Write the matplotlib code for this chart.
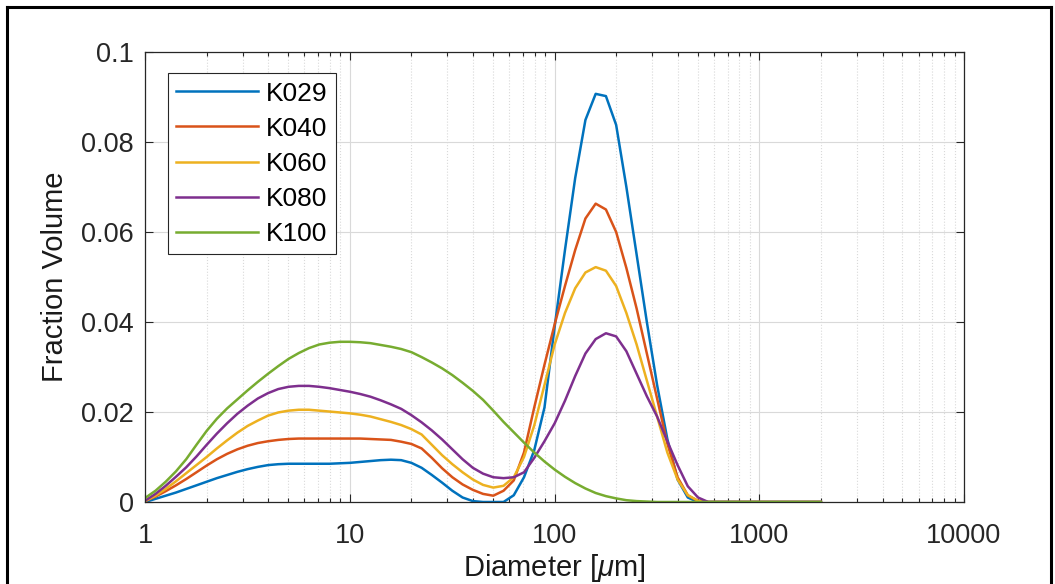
import matplotlib
matplotlib.use("Agg")
import matplotlib.pyplot as plt
from matplotlib.lines import Line2D
from matplotlib.ticker import LogLocator, NullFormatter, FixedLocator

plt.rcParams["font.family"] = ["Liberation Sans", "DejaVu Sans"]
plt.rcParams["mathtext.fontset"] = "custom"
plt.rcParams["mathtext.it"] = "Liberation Sans:italic"

# size classes (um)
diameter = [1.002, 1.125, 1.262, 1.416, 1.589, 1.783, 2.000, 2.244, 2.518, 2.825,
            3.170, 3.557, 3.991, 4.477, 5.024, 5.637, 6.325, 7.096, 7.962, 8.934,
            10.02, 11.25, 12.62, 14.16, 15.89, 17.83, 20.00, 22.44, 25.18, 28.25,
            31.70, 35.57, 39.91, 44.77, 50.24, 56.37, 63.25, 70.96, 79.62, 89.34,
            100.2, 112.5, 126.2, 141.6, 158.9, 178.3, 200.0, 224.4, 251.8, 282.5,
            317.0, 355.7, 399.1, 447.7, 502.4, 563.7, 632.5, 709.6, 796.2, 893.4,
            1002, 1125, 1262, 1416, 1589, 1783, 2000]

k029 = [0.0, 0.0007, 0.0014, 0.0021, 0.0029, 0.0037, 0.0045, 0.0053, 0.0060, 0.0067,
        0.0073, 0.0078, 0.0082, 0.0084, 0.0085, 0.0085, 0.0085, 0.0085, 0.0085, 0.0086,
        0.0087, 0.0089, 0.0091, 0.0093, 0.0094, 0.0093, 0.0087, 0.0076, 0.0060, 0.0043,
        0.0025, 0.0010, 0.0002, 0.0, 0.0, 0.0, 0.0015, 0.0055, 0.0115, 0.0210,
        0.0390, 0.0560, 0.0720, 0.0849, 0.0907, 0.0902, 0.0838, 0.0700, 0.0550, 0.0400,
        0.0260, 0.0140, 0.0050, 0.0010, 0.0, 0.0, 0.0, 0.0, 0.0, 0.0,
        0.0, 0.0, 0.0, 0.0, 0.0, 0.0, 0.0]

k040 = [0.0002, 0.0012, 0.0024, 0.0037, 0.0051, 0.0066, 0.0081, 0.0095, 0.0107, 0.0117,
        0.0125, 0.0131, 0.0135, 0.0138, 0.0140, 0.0141, 0.0141, 0.0141, 0.0141, 0.0141,
        0.0141, 0.0141, 0.0140, 0.0139, 0.0138, 0.0134, 0.0129, 0.0119, 0.0098, 0.0075,
        0.0055, 0.0039, 0.0027, 0.0018, 0.0014, 0.0025, 0.0048, 0.0110, 0.0210, 0.0305,
        0.0395, 0.0480, 0.0560, 0.0630, 0.0663, 0.0650, 0.0600, 0.0520, 0.0430, 0.0330,
        0.0230, 0.0130, 0.0055, 0.0015, 0.0002, 0.0, 0.0, 0.0, 0.0, 0.0,
        0.0, 0.0, 0.0, 0.0, 0.0, 0.0, 0.0]

k060 = [0.0002, 0.0014, 0.0029, 0.0046, 0.0064, 0.0082, 0.0100, 0.0119, 0.0137, 0.0154,
        0.0169, 0.0181, 0.0192, 0.0199, 0.0203, 0.0205, 0.0205, 0.0203, 0.0201, 0.0199,
        0.0197, 0.0194, 0.0190, 0.0184, 0.0178, 0.0171, 0.0162, 0.0150, 0.0127, 0.0104,
        0.0084, 0.0066, 0.0050, 0.0038, 0.0032, 0.0036, 0.0055, 0.0100, 0.0170, 0.0260,
        0.0350, 0.0420, 0.0475, 0.0510, 0.0522, 0.0514, 0.0480, 0.0420, 0.0350, 0.0270,
        0.0190, 0.0110, 0.0050, 0.0015, 0.0003, 0.0, 0.0, 0.0, 0.0, 0.0,
        0.0, 0.0, 0.0, 0.0, 0.0, 0.0, 0.0]

k080 = [0.0003, 0.0018, 0.0036, 0.0056, 0.0077, 0.0101, 0.0127, 0.0152, 0.0175, 0.0196,
        0.0214, 0.0230, 0.0242, 0.0251, 0.0256, 0.0258, 0.0258, 0.0256, 0.0253, 0.0249,
        0.0245, 0.0240, 0.0234, 0.0226, 0.0217, 0.0207, 0.0193, 0.0177, 0.0159, 0.0139,
        0.0117, 0.0095, 0.0076, 0.0063, 0.0055, 0.0053, 0.0055, 0.0066, 0.0098, 0.0135,
        0.0175, 0.0225, 0.0280, 0.0330, 0.0362, 0.0375, 0.0368, 0.0335, 0.0285, 0.0235,
        0.0190, 0.0135, 0.0082, 0.0035, 0.0010, 0.0, 0.0, 0.0, 0.0, 0.0,
        0.0, 0.0, 0.0, 0.0, 0.0, 0.0, 0.0]

k100 = [0.0009, 0.0025, 0.0045, 0.0068, 0.0095, 0.0127, 0.0158, 0.0185, 0.0208, 0.0228,
        0.0248, 0.0267, 0.0285, 0.0302, 0.0318, 0.0331, 0.0342, 0.0350, 0.0354, 0.0356,
        0.0356, 0.0355, 0.0353, 0.0349, 0.0345, 0.0340, 0.0333, 0.0322, 0.0310, 0.0297,
        0.0282, 0.0265, 0.0247, 0.0227, 0.0203, 0.0178, 0.0155, 0.0132, 0.0110, 0.0090,
        0.0072, 0.0056, 0.0042, 0.0030, 0.0020, 0.0013, 0.0008, 0.0004, 0.0002, 0.0001,
        0.0, 0.0, 0.0, 0.0, 0.0, 0.0, 0.0, 0.0, 0.0, 0.0,
        0.0, 0.0, 0.0, 0.0, 0.0, 0.0, 0.0]

names = ["K029", "K040", "K060", "K080", "K100"]
colors = ["#0072BD", "#D95319", "#EDB120", "#7E2F8E", "#77AC30"]
x_ticks = [1, 10, 100, 1000, 10000]
y_ticks = [0, 0.02, 0.04, 0.06, 0.08, 0.1]
y_labels = ["0", "0.02", "0.04", "0.06", "0.08", "0.1"]

W, H = 1055, 584
fig = plt.figure(figsize=(W / 100, H / 100), dpi=100)
ax = fig.add_axes([145 / W, 1 - 502 / H, 819 / W, 450 / H])

for y, name, c in zip([k029, k040, k060, k080, k100], names, colors):
    ax.plot(diameter, y, color=c, lw=1.8, label=name)

ax.set_xscale("log")
ax.set_xlim(1, 10000)
ax.set_ylim(0, 0.1)
ax.xaxis.set_major_locator(FixedLocator(x_ticks))
ax.set_xticklabels([str(t) for t in x_ticks])
ax.xaxis.set_minor_locator(LogLocator(base=10, subs=range(2, 10)))
ax.xaxis.set_minor_formatter(NullFormatter())
ax.set_yticks(y_ticks)
ax.set_yticklabels(y_labels)

gc = "#d9d9d9"
ax.grid(which="major", color=gc, lw=0.8)
ax.grid(which="minor", axis="x", color=gc, lw=0.8, ls=":")
ax.set_axisbelow(True)

tc = "#262626"
for s in ax.spines.values():
    s.set_color(tc)
    s.set_linewidth(0.9)
ax.tick_params(which="both", direction="in", top=True, right=True, colors=tc,
               labelsize=19.5, width=0.8)
ax.tick_params(which="major", length=6)
ax.tick_params(which="minor", length=3)
ax.tick_params(axis="x", pad=15)
ax.tick_params(axis="y", pad=8)

ax.set_xlabel("Diameter [$\\mathit{\\mu}$m]", fontsize=21, color="#1a1a1a")
ax.xaxis.set_label_coords(0.5, -0.11)
ax.set_ylabel("Fraction Volume", fontsize=21, color="#1a1a1a")
ax.yaxis.set_label_coords(-0.093, 0.5)

leg = ax.legend(loc="upper left", bbox_to_anchor=(0.028, 0.953), borderaxespad=0,
                fontsize=19, handlelength=3.1, handletextpad=0.28, labelspacing=0.42,
                borderpad=0.32, fancybox=False, framealpha=1)
leg.get_frame().set_edgecolor(tc)
leg.get_frame().set_linewidth(0.8)

# black frame around the figure
for xs, ys in [([7, 7], [7, H + 5]), ([7, 1051], [7, 7]), ([1051, 1051], [7, H + 5])]:
    fig.add_artist(Line2D([v / W for v in xs], [1 - v / H for v in ys],
                          transform=fig.transFigure, color="black", lw=2.2))

plt.savefig("out.png", dpi=100)
